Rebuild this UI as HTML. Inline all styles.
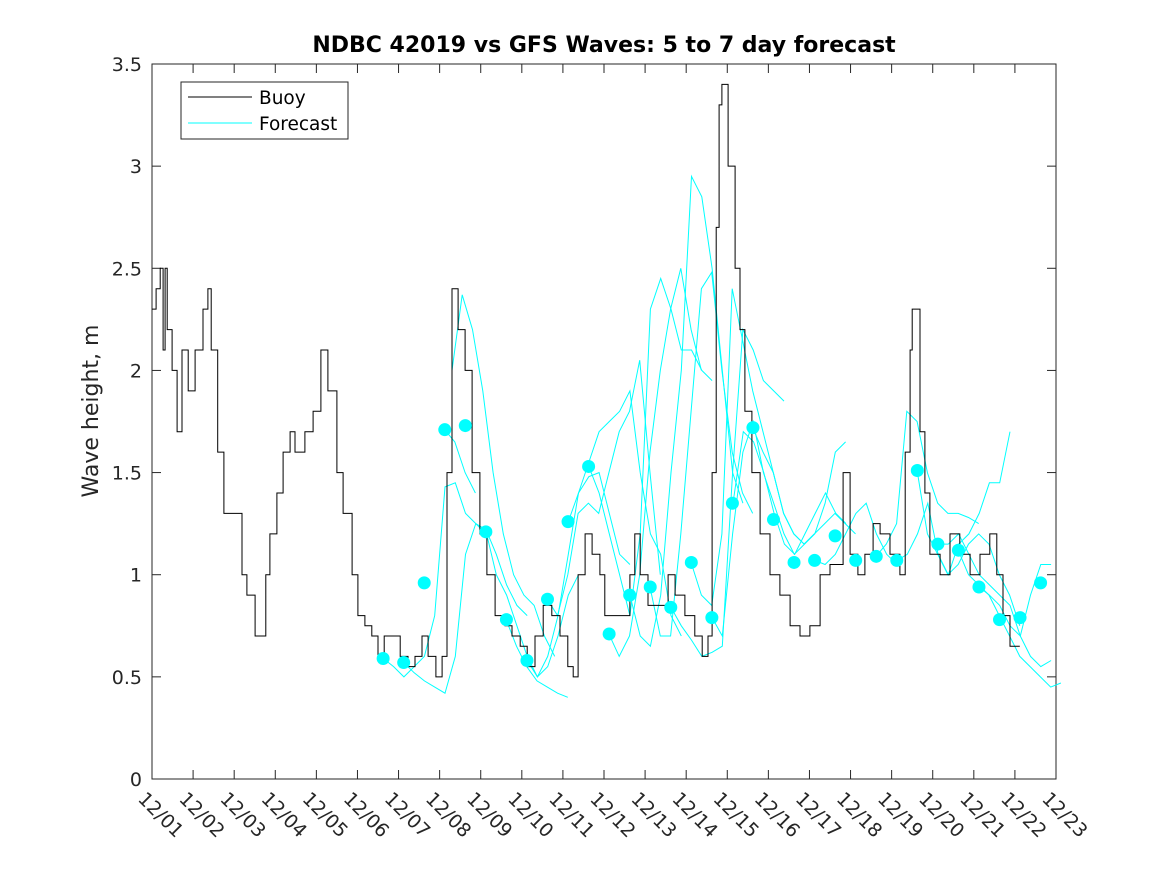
<!DOCTYPE html>
<html><head><meta charset="utf-8"><style>
body{margin:0;background:#fff;}
svg{display:block;font-family:"DejaVu Sans","Liberation Sans",sans-serif;}
</style></head><body>
<svg id="chart" width="1167" height="875" xmlns="http://www.w3.org/2000/svg">
<rect width="1167" height="875" fill="#fff"/>
<text x="604" y="52" text-anchor="middle" font-size="22" font-weight="bold" fill="#000">NDBC 42019 vs GFS Waves: 5 to 7 day forecast</text>
<text transform="translate(98,411) rotate(-90)" text-anchor="middle" font-size="22" fill="#262626">Wave height, m</text>
<g id="plot"></g>
</svg>
<script>
const yTicks=[0,0.5,1,1.5,2,2.5,3,3.5];
const yTickLabels=["0","0.5","1","1.5","2","2.5","3","3.5"];
const xTickLabels=["12/01","12/02","12/03","12/04","12/05","12/06","12/07","12/08","12/09","12/10","12/11","12/12","12/13","12/14","12/15","12/16","12/17","12/18","12/19","12/20","12/21","12/22","12/23"];
const buoyDays=[0,0.1,0.2,0.27,0.32,0.37,0.49,0.61,0.73,0.88,1.05,1.24,1.36,1.44,1.6,1.75,1.95,2.19,2.31,2.51,2.63,2.77,2.87,3.04,3.19,3.36,3.48,3.72,3.92,4.11,4.28,4.5,4.65,4.87,5.01,5.18,5.35,5.5,5.65,5.91,6.04,6.23,6.4,6.57,6.72,6.91,7.06,7.18,7.3,7.45,7.62,7.79,7.98,8.15,8.35,8.59,8.76,8.96,9.13,9.32,9.52,9.73,9.93,10.12,10.25,10.37,10.54,10.71,10.9,11.02,11.51,11.63,11.75,11.88,12.07,12.36,12.56,12.73,12.97,13.21,13.39,13.53,13.63,13.73,13.8,13.87,14.02,14.19,14.31,14.43,14.6,14.8,15.04,15.28,15.53,15.77,16.01,16.26,16.5,16.82,16.99,17.18,17.35,17.55,17.72,17.96,18.2,18.33,18.45,18.5,18.69,18.81,18.93,19.18,19.42,19.66,19.91,20.15,20.39,20.56,20.71,20.88,21.12];
const buoyValues=[2.3,2.4,2.5,2.1,2.5,2.2,2.0,1.7,2.1,1.9,2.1,2.3,2.4,2.1,1.6,1.3,1.3,1.0,0.9,0.7,0.7,1.0,1.2,1.4,1.6,1.7,1.6,1.7,1.8,2.1,1.9,1.5,1.3,1.0,0.8,0.75,0.7,0.6,0.7,0.7,0.6,0.55,0.6,0.7,0.6,0.5,0.6,1.5,2.4,2.2,2.0,1.5,1.2,1.0,0.8,0.75,0.7,0.65,0.55,0.7,0.85,0.8,0.7,0.55,0.5,1.0,1.2,1.1,1.0,0.8,0.8,1.0,1.2,1.0,0.85,0.85,1.0,0.9,0.8,0.7,0.6,0.7,1.5,2.7,3.3,3.4,3.0,2.5,2.2,1.8,1.5,1.2,1.0,0.9,0.75,0.7,0.75,1.0,1.05,1.5,1.1,1.0,1.1,1.25,1.2,1.1,1.0,1.6,2.1,2.3,1.7,1.4,1.1,1.0,1.2,1.1,1.0,1.1,1.2,1.0,0.8,0.65,0.65];
const dotStart=5.625, dotStep=0.5;
const dotValues=[0.59,0.57,0.96,1.71,1.73,1.21,0.78,0.58,0.88,1.26,1.53,0.71,0.90,0.94,0.84,1.06,0.79,1.35,1.72,1.27,1.06,1.07,1.19,1.07,1.09,1.07,1.51,1.15,1.12,0.94,0.78,0.79,0.96];
const segStep=0.25;
const segStarts=[5.63,6.13,7.12,7.3,8.13,8.62,9.13,9.62,10.13,10.63,11.12,11.63,12.12,12.63,13.12,13.63,14.14,14.62,16.13,17.62,18.13,18.62,19.13,19.62,20.13];
const segValues=[
[0.59,0.55,0.5,0.55,0.6,0.8,1.43,1.45,1.3,1.25,1.2],
[0.57,0.52,0.48,0.45,0.42,0.6,1.1,1.25,1.22,1.1,0.95,0.85,0.8],
[1.71,1.65,1.5,1.4],
[2.0,2.37,2.2,1.9,1.5,1.2,1.0,0.9,0.85,0.7,0.6],
[1.21,1.0,0.9,0.75,0.6,0.5,0.55,0.7,0.9,1.0],
[0.78,0.65,0.55,0.48,0.45,0.42,0.4],
[0.58,0.5,0.6,0.8,1.1,1.4,1.48,1.5,1.3,1.1,1.05],
[0.88,0.8,1.0,1.3,1.35,1.3,1.5,1.7,1.8,2.05,1.5,1.0],
[1.26,1.4,1.55,1.7,1.75,1.8,1.9,1.5,1.2,1.1,0.8,0.7],
[1.53,1.4,1.2,1.0,0.8,1.2,2.3,2.45,2.3,2.1,2.1,2.0,1.95],
[0.71,0.6,0.7,1.0,1.6,2.0,2.3,2.5,2.2,2.0],
[0.9,0.7,0.65,0.9,1.5,2.0,2.95,2.85,2.5,2.0,1.5,1.35],
[0.94,0.7,0.7,1.2,1.8,2.4,2.48,2.0,1.6,1.4,1.3],
[0.84,0.75,0.68,0.6,0.62,0.65,1.5,2.2,2.1,1.95,1.9,1.85],
[1.06,0.9,0.85,1.2,2.4,2.15,1.9,1.7,1.5,1.3,1.2,1.15,1.2],
[0.79,0.7,1.2,1.6,1.75,1.5,1.35,1.2,1.1,1.15,1.2,1.35,1.6,1.65],
[1.35,1.7,1.65,1.5,1.3,1.15,1.1,1.2,1.3,1.4,1.3,1.25],
[1.72,1.6,1.5,1.3,1.2,1.15,1.2,1.25,1.3,1.25,1.2],
[1.07,1.05,1.1,1.2,1.3,1.35,1.2,1.1,1.05],
[1.09,1.15,1.25,1.8,1.75,1.5,1.35,1.3,1.3,1.28,1.25],
[1.07,1.1,1.2,1.35,1.1,1.0,1.15,1.2,1.3,1.45,1.45,1.7],
[1.51,1.2,1.1,1.0,1.05,1.15,1.2,1.15,1.0,0.9,0.75],
[1.15,1.15,1.2,1.1,1.0,0.95,0.9,0.85,0.7,0.6,0.55,0.58],
[1.12,1.0,0.95,0.9,0.8,0.7,0.6,0.55,0.5,0.45,0.47],
[0.94,0.9,0.85,0.75,0.7,0.9,1.05,1.05]
];
const NS="http://www.w3.org/2000/svg";
const L=152,R=1056,T=64,B=779;
const xDays=xTickLabels.length-1, yMax=3.5;
function xs(d){return L+(R-L)*d/xDays;}
function ys(v){return B-(B-T)*v/yMax;}
const plot=document.getElementById('plot');
function mk(tag,attrs,parent){const e=document.createElementNS(NS,tag);for(const k in attrs)e.setAttribute(k,attrs[k]);(parent||plot).appendChild(e);return e;}
const frame=mk('rect',{x:L,y:T,width:R-L,height:B-T,fill:'#fff',stroke:'#262626','stroke-width':1});


yTicks.forEach((v,i)=>{
  const y=ys(v);
  const t1=mk('line',{x1:L,x2:L+9,y1:y,y2:y,stroke:'#262626'});
  
  
  const t2=mk('line',{x1:R-9,x2:R,y1:y,y2:y,stroke:'#262626'});
  
  
  const tx=mk('text',{x:L-10,y:y+7,'text-anchor':'end','font-size':19,fill:'#262626'});
  tx.textContent=yTickLabels[i];
  
  
});
xTickLabels.forEach((lab,i)=>{
  const x=xs(i);
  const t1=mk('line',{x1:x,x2:x,y1:B,y2:B-9,stroke:'#262626'});
  
  
  const t2=mk('line',{x1:x,x2:x,y1:T,y2:T+9,stroke:'#262626'});
  
  
  const tx=mk('text',{transform:`translate(${x-15},${B+21}) rotate(45)`,'font-size':19,fill:'#262626'});
  tx.textContent=lab;
  
  
});
segValues.forEach((vals,si)=>{
  const pts=vals.map((v,j)=>xs(segStarts[si]+j*segStep).toFixed(1)+','+ys(v).toFixed(1)).join(' ');
  const p=mk('polyline',{points:pts,fill:'none',stroke:'#00ffff','stroke-width':1});
  
  
});
let bp=[];
buoyDays.forEach((d,i)=>{
  const x=xs(d), y=ys(buoyValues[i]);
  if(i>0){bp.push(x.toFixed(1)+','+ys(buoyValues[i-1]).toFixed(1));}
  bp.push(x.toFixed(1)+','+y.toFixed(1));
});
const buoy=mk('polyline',{points:bp.join(' '),fill:'none',stroke:'#000','stroke-width':1});


dotValues.forEach((v,i)=>{
  const c=mk('circle',{cx:xs(dotStart+i*dotStep),cy:ys(v),r:6.5,fill:'#00ffff'});
  
  
});
const lg=mk('g',{});


mk('rect',{x:181,y:82,width:167,height:57,fill:'#fff',stroke:'#262626'},lg);
mk('line',{x1:188,x2:252,y1:97,y2:97,stroke:'#000'},lg);
const lt1=mk('text',{x:259,y:104,'font-size':18.5,fill:'#000'},lg);
lt1.textContent='Buoy';


mk('line',{x1:188,x2:252,y1:123,y2:123,stroke:'#00ffff'},lg);
const lt2=mk('text',{x:259,y:130,'font-size':18.5,fill:'#000'},lg);
lt2.textContent='Forecast';


</script>
</body></html>
